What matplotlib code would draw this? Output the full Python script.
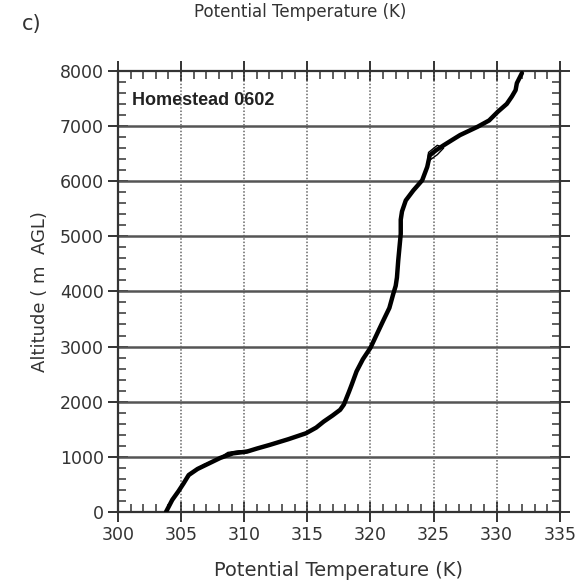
import matplotlib.pyplot as plt
from matplotlib.ticker import MultipleLocator

# sounding (potential temperature K, altitude m AGL)
theta = [303.8, 304.3, 304.8, 305.2, 305.6, 306.3, 307.2, 308.1, 309.1, 310.2,
         311.0, 312.0, 313.5, 314.9, 315.7, 316.3, 317.0, 317.6, 317.9, 318.1,
         318.3, 318.5, 318.9, 319.4, 320.0, 320.5, 321.0, 321.5, 321.8, 322.0,
         322.1, 322.2, 322.3, 322.4, 322.4, 322.5, 322.8, 323.4, 324.1, 324.5,
         324.7, 325.2, 325.8, 326.5, 327.1, 328.5, 329.4, 330.1, 330.8, 331.2,
         331.5, 331.6, 332.0]
alt = [0, 220, 380, 520, 670, 780, 880, 980, 1063, 1094,
       1150, 1215, 1320, 1428, 1530, 1640, 1750, 1853, 1950, 2066,
       2180, 2300, 2550, 2770, 2977, 3220, 3463, 3700, 3949, 4100,
       4253, 4556, 4800, 5043, 5300, 5450, 5650, 5832, 6015, 6258,
       6470, 6560, 6650, 6750, 6835, 6987, 7100, 7260, 7400, 7533,
       7650, 7776, 7958]

# thin trace where the second pass separates from the first
theta2 = [305.2, 305.9, 306.8, 307.9, 308.7, 309.6, 310.6]
alt2 = [520, 720, 860, 960, 1080, 1110, 1120]
theta3 = [324.5, 324.6, 325.3, 325.8, 325.3, 324.7, 324.5]
alt3 = [6300, 6520, 6650, 6600, 6480, 6380, 6300]

xticks = [300, 305, 310, 315, 320, 325, 330, 335]
yticks = [0, 1000, 2000, 3000, 4000, 5000, 6000, 7000, 8000]

fig = plt.figure(figsize=(5.79, 5.82), dpi=100)
ax = fig.add_axes([0.2038, 0.1203, 0.763, 0.758])

ax.plot(theta, alt, color="black", lw=3.2, solid_capstyle="round",
        solid_joinstyle="round", zorder=5)
ax.plot(theta2, alt2, color="black", lw=1, zorder=4)
ax.plot(theta3, alt3, color="black", lw=1, zorder=4)

ax.set_xlim(300, 335)
ax.set_ylim(0, 8000)
ax.set_xticks(xticks)
ax.set_yticks(yticks)
ax.xaxis.set_minor_locator(MultipleLocator(1))
ax.yaxis.set_minor_locator(MultipleLocator(200))

# grid: solid gray horizontal, dotted vertical
for y in yticks[1:-1]:
    ax.axhline(y, color="#555555", lw=1.8, zorder=2)
for x in xticks[1:-1]:
    ax.axvline(x, color="#666666", lw=1.1, ls=(0, (1, 1.2)), zorder=2)

ax.tick_params(axis="x", which="major", direction="inout", length=14, width=1.4,
               top=True, labelsize=12.5, labelcolor="#333333", pad=3, color="#333333")
ax.tick_params(axis="x", which="minor", direction="in", length=6, width=1.1,
               top=True, color="#333333")
ax.tick_params(axis="y", which="major", direction="inout", length=14, width=1.4,
               right=True, labelsize=12.5, labelcolor="#333333", pad=3, color="#333333")
ax.tick_params(axis="y", which="minor", direction="in", length=6, width=1.1,
               right=True, color="#333333")
for s in ax.spines.values():
    s.set_color("#333333")
    s.set_linewidth(1.6)

ax.set_xlabel("Potential Temperature (K)", fontsize=14, color="#333333", labelpad=12)
ax.set_ylabel("Altitude ( m  AGL)", fontsize=13, color="#333333", labelpad=8)

ax.text(0.032, 0.932, "Homestead 0602", transform=ax.transAxes, fontsize=13,
        fontweight="bold", family="Liberation Sans", va="center", ha="left", color="#222222")

fig.text(22 / 579, 1 - 24 / 582, "c)", fontsize=15, va="center", ha="left", color="#333333")
fig.text(300 / 579, 1 - 3 / 582, "Potential Temperature (K)", fontsize=12,
         va="top", ha="center", color="#333333")

fig.savefig("out.png", dpi=100)
